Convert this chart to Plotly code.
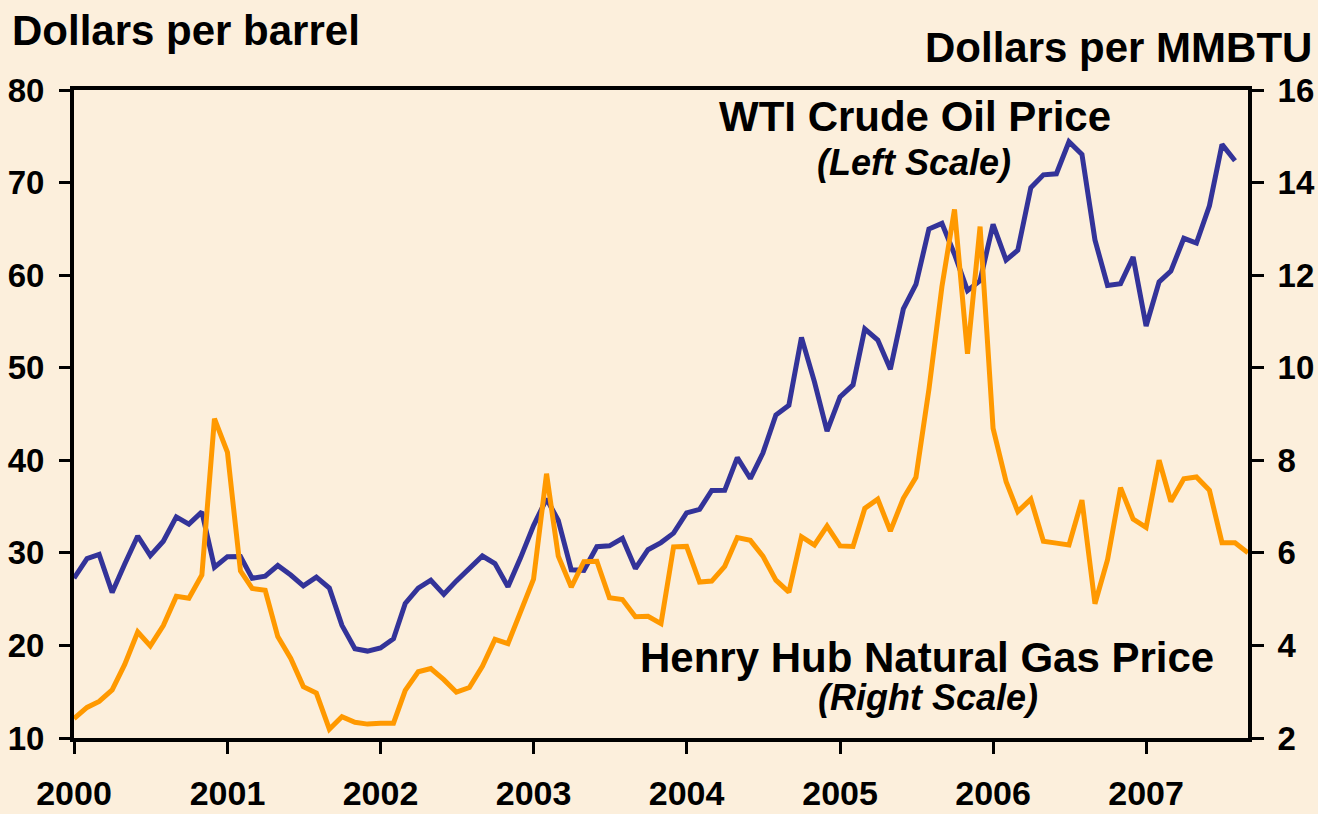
import pandas as pd
import plotly.graph_objects as go

# Monthly WTI crude oil price, $/barrel (Jan 2000 - Aug 2007)
wti = [
    27.26, 29.37, 29.84, 25.72, 28.79, 31.82, 29.70, 31.26, 33.88, 33.11, 34.42, 28.44,
    29.59, 29.61, 27.25, 27.49, 28.63, 27.60, 26.43, 27.37, 26.20, 22.17, 19.64, 19.39,
    19.72, 20.72, 24.53, 26.18, 27.04, 25.52, 26.97, 28.39, 29.66, 28.84, 26.35, 29.46,
    32.95, 35.83, 33.51, 28.17, 28.11, 30.66, 30.76, 31.57, 28.31, 30.34, 31.11, 32.13,
    34.31, 34.69, 36.74, 36.75, 40.28, 38.03, 40.78, 44.90, 45.94, 53.28, 48.47, 43.15,
    46.84, 48.15, 54.19, 52.98, 49.83, 56.35, 58.99, 64.98, 65.59, 62.26, 58.32, 59.41,
    65.49, 61.63, 62.69, 69.44, 70.84, 70.95, 74.41, 73.04, 63.80, 58.89, 59.08, 61.96,
    54.51, 59.28, 60.44, 63.98, 63.46, 67.49, 74.12, 72.36,
]
# Monthly Henry Hub natural gas price, $/MMBTU (Jan 2000 - Sep 2007)
gas = [
    2.42, 2.66, 2.79, 3.04, 3.59, 4.29, 3.99, 4.43, 5.06, 5.02, 5.52, 8.90,
    8.17, 5.61, 5.23, 5.19, 4.19, 3.72, 3.11, 2.97, 2.19, 2.46, 2.34, 2.30,
    2.32, 2.32, 3.03, 3.43, 3.50, 3.26, 2.99, 3.09, 3.55, 4.13, 4.04, 4.74,
    5.43, 7.71, 5.93, 5.26, 5.81, 5.82, 5.03, 4.99, 4.62, 4.63, 4.47, 6.13,
    6.14, 5.37, 5.39, 5.71, 6.33, 6.27, 5.93, 5.41, 5.15, 6.35, 6.17, 6.58,
    6.15, 6.14, 6.96, 7.16, 6.47, 7.18, 7.63, 9.53, 11.75, 13.42, 10.30, 13.05,
    8.69, 7.54, 6.89, 7.16, 6.25, 6.21, 6.17, 7.14, 4.90, 5.85, 7.41, 6.73,
    6.55, 8.00, 7.11, 7.60, 7.64, 7.35, 6.22, 6.22, 6.00,
]
wti_dates = pd.date_range("2000-01-01", periods=len(wti), freq="MS")
gas_dates = pd.date_range("2000-01-01", periods=len(gas), freq="MS")

year_ticks = pd.date_range("2000-01-01", periods=8, freq="YS")
year_labels = [str(y) for y in range(2000, 2008)]
left_ticks = [10, 20, 30, 40, 50, 60, 70, 80]
right_ticks = [2, 4, 6, 8, 10, 12, 14, 16]

W, H = 1318, 814
L, R, T, B = 74, 1248, 90, 738

def px(x):
    return (x - L) / (R - L)

def py(y):
    return (B - y) / (B - T)

FONT = "Arial, Liberation Sans, sans-serif"
BG = "#FCEFDC"

fig = go.Figure()
fig.add_trace(go.Scatter(x=gas_dates, y=gas, yaxis="y2", mode="lines",
                         line=dict(color="#FF9900", width=5), showlegend=False))
fig.add_trace(go.Scatter(x=wti_dates, y=wti, yaxis="y", mode="lines",
                         line=dict(color="#333399", width=5), showlegend=False))

fig.update_layout(
    width=W, height=H,
    margin=dict(l=L, r=W - R, t=T, b=H - B, autoexpand=False),
    paper_bgcolor=BG, plot_bgcolor=BG,
    font=dict(family=FONT, color="black"),
    xaxis=dict(
        range=[gas_dates[0], gas_dates[-1]],
        tickvals=year_ticks, ticktext=[f"<b>{t}</b>" for t in year_labels],
        showgrid=False, zeroline=False, automargin=False,
        showline=True, linecolor="black", linewidth=4, mirror=True,
        ticks="outside", ticklen=12, tickwidth=3, tickcolor="black",
        tickfont=dict(size=34, family=FONT),
        ticklabelstandoff=10,
    ),
    yaxis=dict(
        range=[10, 80], tickvals=left_ticks,
        ticktext=[f"<b>{t}</b>" for t in left_ticks],
        showgrid=False, zeroline=False, automargin=False,
        showline=True, linecolor="black", linewidth=4,
        ticks="outside", ticklen=11, tickwidth=3, tickcolor="black",
        tickfont=dict(size=33, family=FONT),
        ticklabelstandoff=8,
    ),
    yaxis2=dict(
        range=[2, 16], tickvals=right_ticks,
        ticktext=[f"<b>{t}</b>" for t in right_ticks],
        overlaying="y", side="right", anchor="x",
        showgrid=False, zeroline=False, automargin=False,
        showline=True, linecolor="black", linewidth=4,
        ticks="outside", ticklen=12, tickwidth=2.5, tickcolor="black",
        tickfont=dict(size=33, family=FONT),
        ticklabelstandoff=7,
    ),
    yaxis3=dict(
        range=[2, 16], tickvals=right_ticks,
        overlaying="y", side="right", anchor="x",
        showgrid=False, zeroline=False, showline=False, automargin=False,
        showticklabels=False,
        ticks="inside", ticklen=10, tickwidth=2.5, tickcolor="black",
    ),
)

def ann(text, x, y, size, xanchor="center", italic=False):
    t = f"<b>{text}</b>"
    if italic:
        t = f"<i>{t}</i>"
    fig.add_annotation(text=t, xref="paper", yref="paper", x=px(x), y=py(y),
                       xanchor=xanchor, yanchor="middle", showarrow=False,
                       font=dict(size=size, family=FONT, color="black"))

ann("Dollars per barrel", 10, 30, 42, xanchor="left")
ann("Dollars per MMBTU", 1314, 47, 42, xanchor="right")
ann("WTI Crude Oil Price", 915, 117, 42)
ann("(Left Scale)", 914, 162, 36, italic=True)
ann("Henry Hub Natural Gas Price", 927, 657, 42)
ann("(Right Scale)", 928, 697, 36, italic=True)

fig.write_html(
    "out.html",
    config={"displayModeBar": False},
    post_script="document.body.style.margin='0px';document.body.style.overflow='hidden';",
)
